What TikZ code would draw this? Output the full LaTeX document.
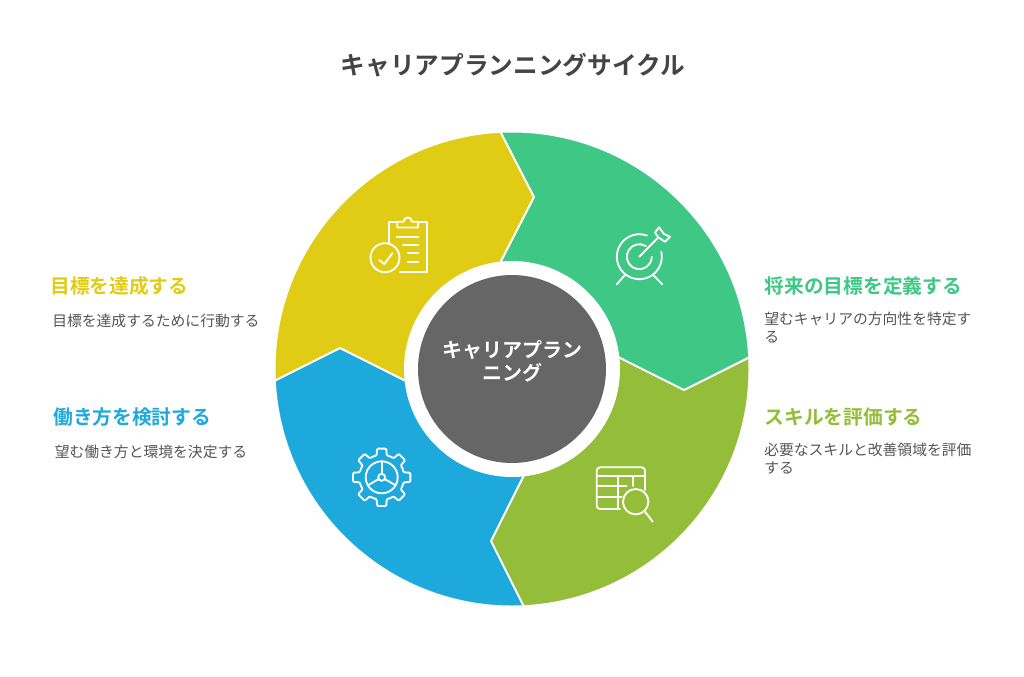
\documentclass[tikz,border=0pt]{standalone}
\usepackage{fontspec}
\setmainfont{Noto Sans CJK JP}
\newfontfamily\jpbold{Noto Sans CJK JP Bold}
\definecolor{cyellow}{HTML}{E0CC14}
\definecolor{cgreen}{HTML}{3EC785}
\definecolor{colive}{HTML}{94BD3A}
\definecolor{cblue}{HTML}{1EA9DC}
\definecolor{cgray}{HTML}{666666}
\definecolor{ctitle}{HTML}{444444}
\definecolor{cdesc}{HTML}{555555}
\tikzset{
  sector/.style={draw=white,line width=1.5pt,line join=round},
  icon/.style={draw=white,line width=1.4pt,line cap=round,line join=round},
  titletext/.style={text=ctitle,inner sep=0pt,font=\fontsize{18.5pt}{22pt}\selectfont\jpbold},
  headtext/.style={anchor=west,inner sep=0pt,font=\fontsize{14.8pt}{18pt}\selectfont\jpbold},
  desctext/.style={anchor=west,inner sep=0pt,text=cdesc,align=left,font=\fontsize{11.1pt}{13.5pt}\selectfont},
  centertext/.style={text=white,inner sep=0pt,align=center,font=\fontsize{15pt}{17.25pt}\selectfont\jpbold}
}
\newcommand{\sectorshape}[2]{%
  \begin{scope}[shift={(512,369)},y=0.75pt,rotate=#1]
    \path[sector,fill=#2] (92.8:237.5) arc[start angle=92.8,end angle=2.8,radius=237.5]
      -- (172,-22) -- (106,12) -- (0,0) -- (-12,106) -- (21,172) -- cycle;
  \end{scope}}
\begin{document}
\begin{tikzpicture}[x=0.75pt,y=-0.75pt]
\useasboundingbox (0,0) rectangle (1024,676);
\fill[white] (0,0) rectangle (1024,676);
\sectorshape{0}{cgreen}
\sectorshape{-90}{colive}
\sectorshape{180}{cblue}
\sectorshape{90}{cyellow}
\fill[white] (512,369) circle[radius=108];
\node[circle,fill=cgray,minimum size=141pt,inner sep=0pt] (hub) at (512,369) {};
\node[centertext] (hubtext) at (512,361.5) {キャリアプラン\\ニング};
\node[titletext] (title) at (513,65) {キャリアプランニングサイクル};
% clipboard
\draw[icon] (389.3,243) -- (389.3,221.7) -- (397.3,221.7) (418,221.7) -- (426.7,221.7) -- (426.7,271.7) -- (400,271.7);
\draw[icon] (397.3,221.7) -- (397.3,227.5) -- (418,227.5) -- (418,221.7) -- (412,221.7) arc[start angle=0,end angle=-180,radius=4.2] -- cycle;
\draw[icon] (396.7,236.7) -- (418.3,236.7) (403,245) -- (418.3,245) (408,253.3) -- (418.3,253.3) (408,262.3) -- (418.3,262.3);
\draw[icon] (385,257.7) circle[radius=14.5];
\draw[icon] (379.3,260) -- (384.3,264) -- (392.3,253.3);
% target
\begin{scope}[shift={(639.3,256.7)},y=0.75pt]
\draw[icon] (70:22.5) arc[start angle=70,end angle=372.6,radius=22.5];
\draw[icon] (58:12.5) arc[start angle=58,end angle=360,radius=12.5];
\end{scope}
\draw[icon] (639.3,256.7) -- (658.3,237.3);
\draw[icon] (659,227.3) -- (655,232.7) -- (658.3,237.3) -- (665,241.7) -- (670,236.7) -- (664,234) -- cycle;
\draw[icon] (625,275) -- (616.7,284.3) (653.3,275) -- (662.3,284.3);
% gear
\begin{scope}[shift={(381.7,477.3)}]
\draw[icon,rounded corners=0.7pt] (-22.5:22.5)
  \foreach \a in {0,45,...,315}{ -- (\a-13:22.5) -- (\a-9:29) -- (\a+9:29) -- (\a+13:22.5) -- (\a+22.5:22.5) } -- cycle;
\draw[icon] (0,0) circle[radius=16];
\draw[icon] (0,0) circle[radius=3.5];
\begin{scope}[y=0.75pt]
\foreach \a in {90,210,330}{
  \draw[icon] (\a:3.5) -- (\a:16);
}
\end{scope}
\end{scope}
% table and lens
\draw[icon,rounded corners=2.5pt] (620,509) -- (596.7,509) -- (596.7,467.3) -- (645,467.3) -- (645,490);
\draw[icon] (596.7,475.7) -- (645,475.7) (596.7,486) -- (626.7,486) (596.7,497) -- (621.7,497);
\draw[icon] (618.3,475.7) -- (618.3,509) (632.7,475.7) -- (632.7,486);
\draw[icon] (635.7,501.7) circle[radius=12.7];
\draw[icon] (645,511.7) -- (652.7,521.7);
% labels
\node[headtext,text=cyellow] (h1) at (50,286) {目標を達成する};
\node[desctext] (d1) at (52,321) {目標を達成するために行動する};
\node[headtext,text=cblue] (h2) at (53,417) {働き方を検討する};
\node[desctext] (d2) at (54.5,452) {望む働き方と環境を決定する};
\node[headtext,text=cgreen] (h3) at (764.5,286) {将来の目標を定義する};
\node[desctext] (d3) at (764,327.3) {望むキャリアの方向性を特定す\\る};
\node[headtext,text=colive] (h4) at (764.5,417) {スキルを評価する};
\node[desctext] (d4) at (764,458.7) {必要なスキルと改善領域を評価\\する};
\end{tikzpicture}
\end{document}
